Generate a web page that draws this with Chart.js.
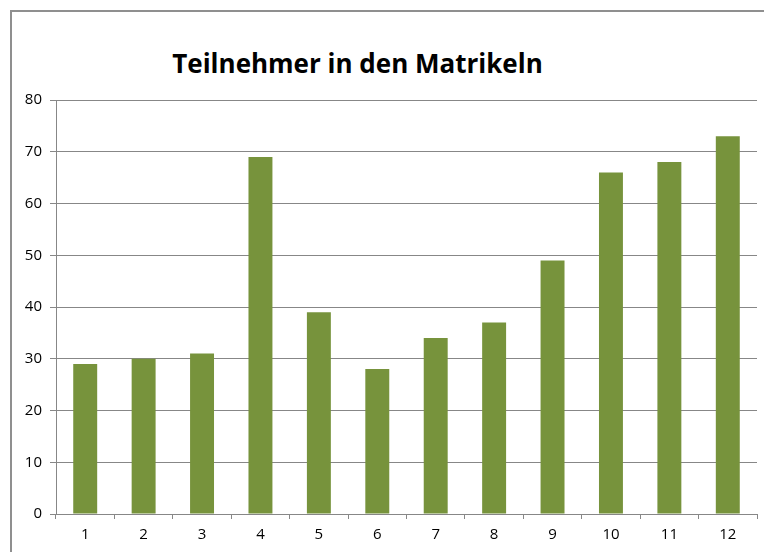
<!DOCTYPE html>
<html><head><meta charset="utf-8">
<script src="https://cdn.jsdelivr.net/npm/chart.js@4"></script>
<style>
html,body{margin:0;padding:0;background:#fff;}
#wrap{position:relative;width:764px;height:552px;overflow:hidden;}
#frame{position:absolute;left:10px;top:10px;width:800px;height:600px;border:2px solid #8f8f8f;box-sizing:border-box;}
#title{position:absolute;left:0;width:715px;top:44px;text-align:center;font-family:"Open Sans",sans-serif;font-weight:bold;font-size:26px;color:#000;line-height:38px;}
canvas{position:absolute;left:0;top:0;}
</style></head>
<body>
<div id="wrap">
<div id="frame"></div>
<div id="title">Teilnehmer in den Matrikeln</div>
<canvas id="c" width="764" height="552"></canvas>
</div>
<script>
const categories = ["1","2","3","4","5","6","7","8","9","10","11","12"];
const participants = [29,30,31,69,39,28,34,37,49,66,68,73];
const yMin = 0, yMax = 80, yStep = 10;

new Chart(document.getElementById('c'), {
  type: 'bar',
  data: { labels: categories, datasets: [{ data: participants, backgroundColor: '#77933C', categoryPercentage: 1, barPercentage: 0.41 }] },
  options: {
    responsive: false, animation: false,
    layout: { padding: { top: 100, right: 7, left: 0, bottom: 0 } },
    plugins: { legend: { display: false }, tooltip: { enabled: false }, title: { display: false } },
    scales: {
      x: {
        grid: { offset: true, drawOnChartArea: false, drawTicks: true, tickLength: 5, color: '#878787' },
        border: { color: '#878787' },
        ticks: { color: '#000', font: { family: 'Open Sans', size: 15 }, padding: 7 },
        afterFit: s => { s.height = 38; }
      },
      y: {
        min: yMin, max: yMax,
        grid: { color: '#878787', tickLength: 6 },
        border: { color: '#878787' },
        ticks: { stepSize: yStep, color: '#000', font: { family: 'Open Sans', size: 15 }, padding: 8 },
        afterFit: s => { s.width = 56; }
      }
    }
  }
});
</script>
</body></html>
